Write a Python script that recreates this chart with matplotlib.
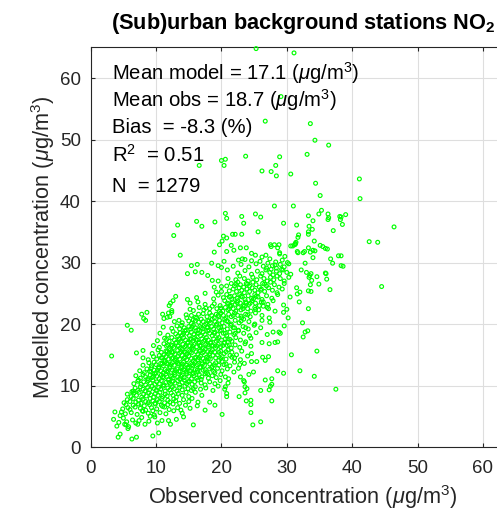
import matplotlib
matplotlib.use("Agg")
import matplotlib.pyplot as plt

plt.rcParams['font.family'] = ['Liberation Sans', 'DejaVu Sans']
plt.rcParams['mathtext.fontset'] = 'custom'
plt.rcParams['mathtext.rm'] = 'Liberation Sans'
plt.rcParams['mathtext.it'] = 'Liberation Sans:italic'
plt.rcParams['mathtext.bf'] = 'Liberation Sans:bold'

# observed (x) / modelled (y) concentrations
obs = [
    # y < 7
    4.2, 4.5, 6.3, 7.0, 9.5, 10.4, 5.7, 4.0, 5.2, 7.2,
    8.3, 12.2, 15.7, 24.8, 26.0, 5.5, 5.8, 5.4, 10.9, 11.9,
    13.1, 14.2, 3.5, 6.4, 7.8, 8.9, 9.8, 6.9, 5.0, 4.3,
    7.4, 10.2, 9.1, 3.7, 4.5, 4.7, 5.7, 17.5, 19.0, 5.3,
    6.2, 7.1, 8.0, 8.8, 9.7, 10.6, 11.5, 12.7, 14.0, 4.9,
    6.0, 6.8, 7.6, 8.4, 9.3, 10.1, 11.0, 12.0, 13.3, 15.2,
    5.4, 6.5, 7.3, 8.2, 9.0, 9.9, 10.8, 11.8, 12.6, 14.5,
    16.3, 7.9, 9.5, 11.3, 13.8, 20.1, 24.5, 24.5,
    # 7-8
    5.1, 5.6, 6.0, 6.5, 6.9, 7.3, 7.7, 8.0, 8.4, 8.8,
    9.1, 9.5, 9.8, 10.2, 10.5, 10.9, 11.3, 11.8, 12.1, 12.7,
    13.0, 13.6, 14.2, 15.0, 15.5, 16.4, 18.2, 23.8, 24.5, 27.7,
    # 8-9
    5.6, 6.2, 6.6, 7.0, 7.4, 7.8, 8.1, 8.5, 8.9, 9.2,
    9.6, 9.9, 10.3, 10.6, 11.0, 11.4, 11.7, 12.3, 12.6, 13.1,
    13.4, 14.0, 14.6, 15.0, 16.0, 17.0, 20.8, 20.8, 22.7, 23.6,
    # 9-10
    6.3, 6.8, 7.2, 7.6, 8.0, 8.3, 8.7, 9.0, 9.4, 9.7,
    10.0, 10.4, 10.7, 11.1, 11.4, 11.8, 12.1, 12.5, 12.8, 13.2,
    13.6, 14.0, 14.4, 14.9, 15.4, 16.0, 16.8, 17.6, 18.7, 19.5,
    20.5, 20.6, 23.9, 23.6, 26.0, 27.3, 27.5, 37.5, 6.5, 15.7,
    # 10-11
    6.6, 7.2, 7.3, 7.7, 8.1, 8.4, 8.8, 9.1, 9.5, 9.8,
    10.1, 10.5, 10.8, 11.2, 11.5, 11.9, 12.2, 12.6, 12.9, 13.3,
    13.6, 14.0, 14.3, 14.7, 15.1, 15.5, 15.9, 16.4, 16.9, 17.5,
    18.2, 19.0, 19.8, 21.0, 23.5, 23.4, 26.7, 27.7, 12.0, 14.9,
    # 11-12
    6.9, 7.6, 8.0, 8.4, 8.7, 9.1, 9.4, 9.8, 10.1, 10.5,
    10.8, 11.2, 11.5, 11.9, 12.2, 12.6, 12.9, 13.3, 13.6, 14.0,
    14.3, 14.7, 15.0, 15.4, 15.8, 16.2, 16.6, 17.0, 17.5, 18.0,
    18.6, 19.2, 19.9, 20.6, 21.1, 22.9, 27.7, 34.2, 11.0, 13.8,
    16.9, 12.4, 9.6, 15.6, 24.2, 17.9,
    # 12-13
    7.5, 8.2, 8.6, 9.0, 9.3, 9.7, 10.0, 10.4, 10.7, 11.1,
    11.4, 11.8, 12.1, 12.5, 12.8, 13.2, 13.5, 13.9, 14.2, 14.6,
    14.9, 15.3, 15.7, 16.0, 16.4, 16.8, 17.2, 17.7, 18.2, 18.8,
    19.4, 20.1, 20.9, 21.9, 24.9, 28.6, 29.5, 32.0, 10.2, 12.9,
    15.1, 17.5, 13.7, 9.2, 11.6, 16.3, 19.0, 22.6, 14.4, 18.5,
    # 13-14
    8.9, 9.3, 9.7, 10.0, 10.4, 10.7, 11.1, 11.4, 11.8, 12.1,
    12.5, 12.8, 13.2, 13.5, 13.9, 14.2, 14.6, 14.9, 15.3, 15.6,
    16.0, 16.3, 16.7, 17.0, 17.4, 17.8, 18.2, 18.6, 19.1, 19.6,
    20.1, 20.7, 21.3, 22.0, 22.8, 23.5, 24.6, 25.4, 8.0, 10.9,
    12.3, 14.0, 15.5, 17.1, 18.9, 13.3, 16.5, 11.6, 20.4, 14.7,
    # 14-15
    3.2, 8.0, 8.8, 9.6, 10.1, 10.5, 10.8, 11.2, 11.5, 11.9,
    12.2, 12.6, 12.9, 13.3, 13.6, 14.0, 14.3, 14.7, 15.0, 15.4,
    15.7, 16.1, 16.4, 16.8, 17.2, 17.5, 17.9, 18.3, 18.7, 19.1,
    19.6, 20.1, 20.7, 21.3, 22.0, 22.9, 24.0, 26.3, 27.2, 26.7,
    11.0, 13.0, 14.5, 16.6, 18.0, 19.9, 12.4, 15.9, 17.7, 21.6,
    # 15-16
    7.0, 8.0, 9.4, 10.3, 10.8, 11.2, 11.5, 11.9, 12.2, 12.6,
    12.9, 13.3, 13.6, 14.0, 14.3, 14.7, 15.0, 15.4, 15.7, 16.1,
    16.4, 16.8, 17.1, 17.5, 17.9, 18.2, 18.6, 19.0, 19.4, 19.9,
    20.4, 21.0, 21.6, 22.3, 23.1, 24.6, 30.7, 34.6, 13.8, 17.3,
    15.2, 18.4, 20.7, 11.7, 14.5, 16.6, 19.6, 12.4,
    # 16-17
    9.6, 10.5, 11.2, 11.6, 12.0, 12.3, 12.7, 13.0, 13.4, 13.7,
    14.1, 14.4, 14.8, 15.1, 15.5, 15.8, 16.2, 16.5, 16.9, 17.2,
    17.6, 18.0, 18.3, 18.7, 19.1, 19.5, 19.9, 20.4, 20.9, 21.5,
    22.1, 22.8, 23.6, 24.5, 27.3, 12.5, 14.6, 16.7, 18.5, 20.2,
    15.6, 13.4, 17.9, 21.2, 19.3, 11.8,
    # 17-18
    10.2, 11.3, 12.0, 12.4, 12.8, 13.1, 13.5, 13.8, 14.2, 14.5,
    14.9, 15.2, 15.6, 15.9, 16.3, 16.6, 17.0, 17.3, 17.7, 18.0,
    18.4, 18.8, 19.2, 19.6, 20.0, 20.5, 21.0, 21.6, 22.2, 22.9,
    23.7, 24.5, 26.2, 28.2, 28.6, 32.5, 16.1, 19.4, 13.6, 21.3,
    17.5, 15.4, 20.6, 11.6,
    # 18-19
    10.6, 11.8, 12.6, 13.0, 13.3, 13.7, 14.0, 14.4, 14.7, 15.1,
    15.4, 15.8, 16.1, 16.5, 16.8, 17.2, 17.5, 17.9, 18.2, 18.6,
    19.0, 19.4, 19.8, 20.3, 20.8, 21.3, 21.9, 22.6, 23.4, 24.3,
    25.3, 27.0, 27.9, 28.8, 29.0, 32.8, 33.2, 16.3, 18.9, 14.2,
    20.6, 22.1,
    # 19-20
    5.6, 6.2, 11.1, 12.4, 13.2, 13.6, 13.9, 14.3, 14.6, 15.0,
    15.3, 15.7, 16.0, 16.4, 16.7, 17.1, 17.4, 17.8, 18.1, 18.5,
    18.8, 19.2, 19.6, 20.0, 20.4, 20.9, 21.4, 22.0, 22.6, 23.3,
    24.1, 25.0, 26.0, 29.6, 16.9, 19.9, 21.8, 15.5, 17.9, 23.7,
    # 20-21
    8.4, 8.1, 11.2, 12.8, 14.0, 14.7, 15.0, 15.4, 15.7, 16.2,
    16.5, 16.9, 17.2, 17.6, 17.9, 18.3, 18.6, 19.0, 19.3, 19.7,
    20.1, 20.5, 21.0, 21.5, 22.1, 22.7, 23.4, 24.2, 25.1, 26.2,
    27.4, 30.2, 32.4, 18.1, 20.8, 23.0, 16.0, 13.5,
    # 21-22
    7.8, 8.6, 11.0, 11.7, 12.4, 12.1, 11.9, 14.6, 15.4, 16.5,
    17.2, 17.8, 18.2, 18.5, 18.9, 19.2, 19.6, 19.9, 20.3, 20.7,
    21.1, 21.5, 22.0, 22.5, 23.1, 23.7, 24.4, 25.2, 26.2, 27.3,
    29.5, 19.5, 21.8, 24.0, 16.0, 23.0,
    # 22-23
    12.4, 12.0, 15.2, 15.7, 16.6, 17.3, 18.2, 18.6, 19.3, 19.7,
    20.2, 20.6, 21.0, 21.4, 21.8, 22.2, 22.6, 23.0, 23.5, 24.0,
    24.5, 25.1, 25.7, 26.4, 27.2, 28.2, 30.0, 33.3, 19.9, 23.3,
    21.2, 25.2, 17.6, 27.0,
    # 23-24
    12.2, 12.6, 15.2, 16.4, 17.5, 18.9, 19.8, 20.5, 20.9, 21.3,
    21.7, 22.1, 22.5, 22.9, 23.3, 23.7, 24.2, 24.7, 25.2, 25.8,
    26.4, 27.1, 27.9, 29.5, 31.9, 22.4, 24.4, 26.1, 21.1, 23.8,
    # 24-25
    13.0, 14.8, 16.2, 18.8, 19.5, 20.3, 20.8, 21.2, 21.6, 22.0,
    22.4, 22.8, 23.2, 23.6, 24.1, 24.6, 25.1, 25.6, 26.2, 26.9,
    27.7, 28.6, 30.5, 31.6, 23.0, 25.3, 21.4, 24.9,
    # 25-26
    17.5, 19.2, 20.0, 21.2, 21.8, 22.3, 22.7, 23.1, 23.5, 23.9,
    24.3, 24.7, 25.1, 25.6, 26.1, 26.6, 27.2, 27.8, 28.5, 29.3,
    31.5, 32.0, 33.3, 33.7, 36.6, 26.0,
    # 26-27
    18.9, 20.0, 20.8, 21.5, 22.0, 22.5, 22.9, 23.4, 23.8, 24.3,
    24.8, 25.3, 25.8, 26.3, 26.9, 27.5, 28.1, 28.8, 29.6, 33.6,
    34.9, 24.0, 26.6, 22.2,
    # 27-28
    18.6, 19.5, 17.9, 21.0, 22.2, 22.8, 23.5, 24.1, 24.8, 25.4,
    26.0, 26.5, 27.0, 27.5, 28.0, 28.5, 29.0, 29.6, 30.3, 33.4,
    34.6, 33.8, 36.1, 33.5,
    # 28-29
    14.8, 16.0, 17.0, 20.9, 22.5, 23.6, 24.6, 25.5, 26.2, 26.8,
    27.4, 27.9, 28.4, 28.9, 29.4, 30.0, 30.6, 32.2, 33.0, 33.7,
    36.0, 35.9, 27.6, 29.2,
    # 29-30
    15.4, 16.3, 18.5, 19.5, 20.0, 21.8, 23.0, 24.2, 25.3, 26.4,
    27.1, 27.8, 28.4, 29.0, 29.6, 30.3, 32.8, 37.0, 38.3, 38.6,
    28.2, 26.9,
    # 30-33
    22.6, 23.2, 23.6, 24.6, 25.9, 20.4, 36.7, 34.0, 38.3, 37.9,
    13.7, 25.2, 26.8, 28.9, 18.9, 20.8, 24.6, 31.6, 32.7, 32.5,
    31.7, 33.6, 34.3, 21.9, 34.0, 22.9, 23.8, 33.3, 36.2, 35.9,
    27.6, 28.6, 28.9, 30.9, 19.7, 21.5, 27.5, 28.8, 30.6, 31.3,
    31.2, 35.5, 35.1, 28.1, 28.3, 29.3, 30.1, 27.4, 29.7, 26.2,
    # 33-38
    12.7, 20.3, 20.1, 20.8, 21.7, 22.1, 23.1, 25.6, 33.3, 31.8,
    31.7, 31.3, 31.4, 34.2, 33.3, 33.9, 33.4, 31.5, 37.1, 38.5,
    13.3, 17.0, 16.2, 19.0, 23.4, 29.5, 33.3, 34.0, 34.9, 35.3,
    36.3, 36.4, 36.3, 38.2, 39.0, 38.1, 20.6, 20.8, 23.1, 25.2,
    26.0, 42.6, 43.9, 46.4, 44.5, 38.3,
    # > 38
    28.1, 31.0, 35.1, 41.2, 34.4, 41.1, 26.2, 27.6, 28.4, 30.6,
    28.3, 16.6, 20.0, 20.6, 20.4, 23.7, 28.9, 33.1, 36.4, 34.3,
    26.7, 33.6, 29.1, 25.3, 31.1,
]

mod = [
    # y < 7
    1.6, 2.1, 1.3, 1.6, 1.8, 2.3, 3.0, 3.4, 3.7, 3.7,
    3.7, 3.7, 3.6, 3.6, 4.1, 4.1, 3.3, 3.6, 4.3, 4.3,
    4.5, 4.9, 4.5, 4.4, 4.8, 4.2, 4.9, 3.9, 4.7, 4.0,
    4.3, 3.9, 5.0, 5.7, 5.1, 5.7, 6.4, 6.0, 6.8, 5.4,
    5.6, 5.3, 5.8, 5.5, 5.2, 5.6, 5.4, 5.9, 5.5, 6.2,
    6.1, 6.5, 6.3, 6.0, 6.4, 6.2, 6.6, 6.1, 6.4, 6.3,
    6.9, 6.8, 7.0, 6.7, 6.9, 7.0, 6.8, 6.9, 7.0, 6.8,
    6.7, 5.9, 5.9, 6.5, 6.0, 5.3, 5.6, 6.9,
    # 7-8
    7.2, 7.7, 7.4, 7.9, 7.3, 7.6, 7.1, 7.8, 7.4, 7.2,
    7.9, 7.5, 7.1, 7.7, 7.4, 7.9, 7.2, 7.6, 7.3, 7.8,
    7.5, 7.1, 7.7, 7.4, 7.9, 7.3, 7.3, 7.5, 7.6, 7.5,
    # 8-9
    8.6, 8.2, 8.8, 8.4, 8.9, 8.1, 8.6, 8.3, 8.8, 8.5,
    8.1, 8.7, 8.4, 8.9, 8.2, 8.6, 8.3, 8.8, 8.4, 8.1,
    8.7, 8.4, 8.9, 8.2, 8.9, 8.4, 8.2, 8.7, 8.2, 8.8,
    # 9-10
    9.0, 9.6, 9.2, 9.8, 9.4, 9.1, 9.7, 9.3, 9.9, 9.5,
    9.2, 9.7, 9.4, 9.9, 9.1, 9.6, 9.3, 9.8, 9.5, 9.1,
    9.7, 9.3, 9.9, 9.5, 9.2, 9.8, 9.4, 9.6, 9.2, 9.9,
    9.4, 9.8, 9.5, 9.8, 9.2, 9.3, 9.9, 9.4, 9.1, 9.5,
    # 10-11
    10.3, 10.7, 10.9, 10.2, 10.6, 10.1, 10.8, 10.4, 10.9, 10.2,
    10.6, 10.3, 10.8, 10.1, 10.5, 10.9, 10.2, 10.7, 10.4, 10.8,
    10.1, 10.5, 10.9, 10.3, 10.7, 10.2, 10.6, 10.9, 10.4, 10.1,
    10.6, 10.3, 10.8, 10.4, 10.6, 10.8, 10.9, 10.2, 10.5, 10.6,
    # 11-12
    11.6, 11.2, 11.8, 11.4, 11.1, 11.7, 11.3, 11.9, 11.5, 11.1,
    11.7, 11.3, 11.9, 11.0, 11.6, 11.2, 11.8, 11.4, 11.1, 11.7,
    11.3, 11.9, 11.5, 11.1, 11.6, 11.2, 11.8, 11.4, 11.9, 11.2,
    11.6, 11.3, 11.8, 11.4, 11.1, 11.4, 11.1, 11.5, 11.4, 11.5,
    11.0, 11.5, 11.5, 11.9, 11.8, 11.9,
    # 12-13
    12.4, 12.1, 12.7, 12.3, 12.9, 12.5, 12.1, 12.8, 12.4, 12.0,
    12.6, 12.2, 12.9, 12.5, 12.1, 12.7, 12.3, 12.9, 12.6, 12.2,
    12.8, 12.4, 12.0, 12.6, 12.2, 12.9, 12.5, 12.1, 12.7, 12.3,
    12.8, 12.4, 12.7, 12.2, 12.2, 12.4, 12.0, 12.4, 12.5, 12.5,
    12.4, 12.6, 12.3, 12.2, 12.3, 12.5, 12.1, 12.8, 12.5, 12.9,
    # 13-14
    13.7, 13.2, 13.8, 13.4, 13.0, 13.6, 13.2, 13.9, 13.5, 13.1,
    13.7, 13.3, 13.9, 13.5, 13.1, 13.8, 13.4, 13.0, 13.6, 13.2,
    13.8, 13.4, 13.0, 13.7, 13.3, 13.9, 13.5, 13.1, 13.7, 13.3,
    13.9, 13.5, 13.2, 13.8, 13.4, 13.6, 13.9, 13.9, 13.3, 13.5,
    13.4, 13.5, 13.4, 13.5, 13.4, 13.6, 13.6, 13.6, 13.4, 13.3,
    # 14-15
    14.8, 14.5, 14.2, 14.7, 14.3, 14.9, 14.5, 14.1, 14.7, 14.3,
    14.9, 14.5, 14.1, 14.7, 14.3, 14.9, 14.5, 14.2, 14.8, 14.4,
    14.0, 14.6, 14.2, 14.8, 14.4, 14.0, 14.7, 14.3, 14.9, 14.5,
    14.1, 14.7, 14.3, 14.9, 14.5, 14.2, 14.8, 14.6, 14.7, 14.1,
    14.5, 14.4, 14.6, 14.5, 14.4, 14.4, 14.4, 14.5, 14.6, 14.6,
    # 15-16
    15.3, 15.7, 15.2, 15.8, 15.4, 15.0, 15.6, 15.2, 15.8, 15.4,
    15.1, 15.7, 15.3, 15.9, 15.5, 15.1, 15.7, 15.3, 15.9, 15.5,
    15.1, 15.7, 15.3, 15.9, 15.5, 15.2, 15.8, 15.4, 15.0, 15.6,
    15.2, 15.8, 15.4, 15.0, 15.6, 15.2, 15.0, 15.6, 15.5, 15.5,
    15.5, 15.5, 15.5, 15.5, 15.4, 15.6, 15.4, 15.5,
    # 16-17
    16.5, 16.2, 16.8, 16.4, 16.0, 16.6, 16.2, 16.9, 16.5, 16.1,
    16.7, 16.3, 16.9, 16.5, 16.1, 16.7, 16.3, 16.9, 16.5, 16.1,
    16.7, 16.3, 16.9, 16.5, 16.1, 16.7, 16.3, 16.9, 16.5, 16.1,
    16.6, 16.2, 16.8, 16.4, 16.8, 16.5, 16.5, 16.5, 16.5, 16.5,
    16.4, 16.4, 16.6, 16.6, 16.4, 16.6,
    # 17-18
    17.3, 17.7, 17.2, 17.8, 17.4, 17.0, 17.6, 17.2, 17.8, 17.4,
    17.0, 17.6, 17.2, 17.8, 17.4, 17.0, 17.6, 17.2, 17.8, 17.4,
    17.0, 17.6, 17.2, 17.8, 17.4, 17.0, 17.6, 17.2, 17.8, 17.4,
    17.1, 17.7, 17.0, 17.0, 17.1, 17.9, 17.5, 17.5, 17.5, 17.5,
    17.4, 17.5, 17.6, 17.5,
    # 18-19
    18.5, 18.2, 18.8, 18.4, 18.0, 18.6, 18.2, 18.9, 18.5, 18.1,
    18.7, 18.3, 18.9, 18.5, 18.1, 18.7, 18.3, 18.9, 18.5, 18.1,
    18.7, 18.3, 18.9, 18.5, 18.1, 18.7, 18.3, 18.9, 18.5, 18.1,
    18.6, 18.3, 18.7, 18.7, 18.5, 18.7, 18.9, 18.5, 18.5, 18.5,
    18.5, 18.5,
    # 19-20
    19.8, 19.0, 19.5, 19.3, 19.7, 19.2, 19.8, 19.4, 19.0, 19.6,
    19.2, 19.8, 19.4, 19.0, 19.6, 19.2, 19.8, 19.4, 19.0, 19.6,
    19.2, 19.8, 19.4, 19.0, 19.6, 19.2, 19.8, 19.4, 19.0, 19.6,
    19.2, 19.8, 19.4, 19.7, 19.4, 19.5, 19.4, 19.5, 19.5, 19.4,
    # 20-21
    20.6, 20.9, 20.9, 20.4, 20.2, 21.0, 20.5, 20.1, 20.7, 21.0,
    20.3, 20.8, 20.4, 20.0, 20.6, 20.2, 20.8, 20.4, 20.0, 20.6,
    20.2, 20.8, 20.4, 20.0, 20.6, 20.2, 20.8, 20.4, 20.0, 20.6,
    20.3, 21.0, 20.2, 20.5, 20.5, 20.5, 20.5, 20.6,
    # 21-22
    21.6, 21.9, 21.6, 21.1, 21.9, 21.2, 21.8, 21.5, 21.4, 21.6,
    21.7, 21.2, 21.8, 21.4, 21.0, 21.6, 21.2, 21.8, 21.4, 21.0,
    21.6, 21.2, 21.8, 21.4, 21.0, 21.6, 21.2, 21.8, 21.4, 21.0,
    21.9, 21.4, 21.4, 21.5, 21.1, 21.3,
    # 22-23
    22.2, 23.0, 22.4, 22.2, 22.7, 22.3, 22.5, 22.9, 22.5, 22.1,
    22.1, 22.7, 22.3, 22.9, 22.5, 22.1, 22.7, 22.3, 22.9, 22.5,
    22.1, 22.7, 22.3, 22.9, 22.5, 22.1, 22.4, 22.5, 22.6, 22.5,
    22.5, 22.4, 22.6, 22.7,
    # 23-24
    23.4, 23.8, 23.4, 23.6, 23.2, 23.3, 23.0, 23.8, 23.4, 23.0,
    23.6, 23.2, 23.8, 23.4, 23.0, 23.6, 23.2, 23.8, 23.4, 23.0,
    23.6, 23.2, 23.8, 23.1, 23.6, 23.5, 23.4, 23.6, 23.3, 23.4,
    # 24-25
    24.5, 24.0, 24.3, 24.1, 24.7, 24.3, 24.8, 24.4, 24.0, 24.6,
    24.2, 24.8, 24.4, 24.0, 24.6, 24.2, 24.8, 24.4, 24.0, 24.6,
    24.2, 24.8, 24.4, 24.9, 24.5, 24.5, 24.5, 24.1,
    # 25-26
    25.0, 25.2, 25.3, 25.4, 25.7, 25.3, 25.9, 25.5, 25.1, 25.7,
    25.3, 25.9, 25.5, 25.1, 25.7, 25.3, 25.9, 25.5, 25.1, 25.7,
    25.9, 25.2, 25.4, 25.3, 25.6, 25.5,
    # 26-27
    26.0, 26.1, 26.2, 26.6, 26.2, 26.8, 26.4, 26.0, 26.6, 26.2,
    26.8, 26.4, 26.0, 26.6, 26.2, 26.8, 26.4, 26.0, 26.6, 26.4,
    26.5, 26.5, 26.5, 26.5,
    # 27-28
    27.1, 27.0, 27.9, 27.4, 27.2, 27.8, 27.4, 27.0, 27.6, 27.2,
    27.8, 27.4, 27.0, 27.6, 27.2, 27.8, 27.4, 27.0, 27.6, 27.6,
    27.7, 27.1, 27.3, 27.9,
    # 28-29
    28.2, 28.5, 28.4, 28.8, 28.3, 28.7, 28.1, 28.6, 28.2, 28.8,
    28.4, 28.0, 28.6, 28.2, 28.8, 28.4, 28.1, 28.8, 28.4, 28.2,
    28.2, 28.3, 28.9, 28.9,
    # 29-30
    29.5, 29.7, 29.9, 29.5, 29.2, 29.4, 29.7, 29.3, 29.8, 29.4,
    29.9, 29.5, 29.1, 29.7, 29.3, 29.8, 29.9, 29.9, 29.5, 29.4,
    29.6, 29.1,
    # 30-33
    30.4, 30.6, 30.5, 30.3, 30.2, 30.2, 30.6, 30.8, 31.1, 31.1,
    31.2, 31.2, 31.2, 31.4, 31.7, 31.8, 31.5, 31.8, 31.8, 31.6,
    31.6, 31.7, 31.9, 32.0, 32.0, 32.4, 32.4, 32.4, 32.2, 32.3,
    32.6, 32.4, 31.6, 32.7, 32.9, 32.8, 32.9, 32.9, 32.7, 33.1,
    32.9, 32.6, 32.8, 32.9, 30.1, 30.4, 30.0, 30.6, 31.0, 30.9,
    # 33-38
    34.4, 34.3, 33.5, 34.0, 34.6, 34.6, 34.6, 35.0, 34.6, 34.5,
    34.1, 33.0, 33.3, 33.5, 35.0, 35.4, 35.9, 36.1, 35.2, 36.2,
    36.1, 35.9, 36.7, 36.6, 36.4, 36.4, 37.6, 36.8, 37.9, 38.5,
    37.9, 37.3, 37.0, 37.0, 37.8, 37.5, 38.0, 37.2, 37.5, 37.9,
    37.4, 33.4, 33.3, 35.8, 26.1, 37.4,
    # > 38
    39.2, 39.2, 40.9, 40.4, 42.9, 43.6, 44.9, 44.8, 44.1, 44.4,
    45.8, 45.8, 46.6, 46.8, 45.8, 47.3, 47.2, 47.6, 49.1, 49.9,
    53.0, 52.6, 57.0, 64.8, 64.1,
]

stats_lines = [
    r'Mean model = 17.1 ($\mu$g/m$^3$)',
    r'Mean obs = 18.7 ($\mu$g/m$^3$)',
    r'Bias  = -8.3 (%)',
    r'R$^2$  = 0.51',
    r'N  = 1279',
]
stats_y = [59.75, 55.3, 51.05, 46.35, 41.4]

ticks = [0, 10, 20, 30, 40, 50, 60]
dark = '#262626'

fig = plt.figure(figsize=(4.97, 5.15), dpi=100)
ax = fig.add_axes([0.1825, 0.132, 0.855, 0.776])

ax.scatter(obs, mod, s=7.5, facecolors='none', edgecolors=(0, 1, 0),
           linewidths=0.85, clip_on=False, zorder=3)

ax.set_xlim(0, 65)
ax.set_ylim(0, 65)
ax.set_xticks(ticks)
ax.set_yticks(ticks)
ax.grid(True, color='#dedede', linewidth=0.8)
ax.set_axisbelow(True)
ax.tick_params(direction='in', length=3, width=0.8, top=True, right=False,
               colors=dark, labelsize=13.5)
ax.tick_params(axis='x', pad=9.5)
ax.tick_params(axis='y', pad=7)
for sp in ax.spines.values():
    sp.set_color(dark)
    sp.set_linewidth(0.8)
ax.spines['right'].set_visible(False)

for txt, yy in zip(stats_lines, stats_y):
    ax.text(3.3, yy, txt, fontsize=14.6, color='black', va='baseline', ha='left', zorder=4)

ax.set_xlabel(r'Observed concentration ($\mu$g/m$^3$)', fontsize=15.7, color=dark, labelpad=4)
ax.set_ylabel(r'Modelled concentration ($\mu$g/m$^3$)', fontsize=15.7, color=dark, labelpad=2)
ax.set_title(r'(Sub)urban background stations NO$_\mathbf{2}$', fontsize=15.7,
             fontweight='bold', color='black', pad=13)

fig.savefig('out.png', dpi=100)
